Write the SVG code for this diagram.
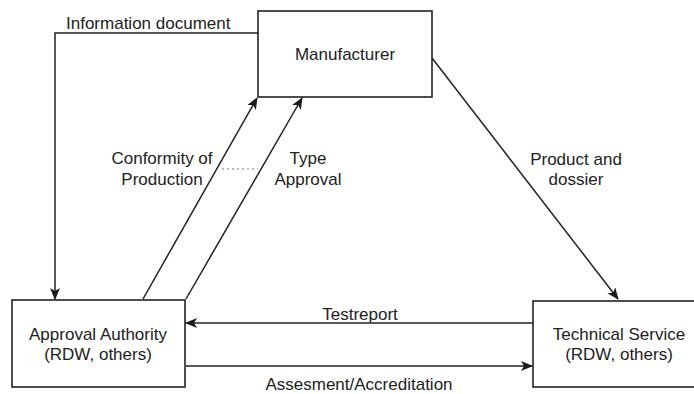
<svg xmlns="http://www.w3.org/2000/svg" width="694" height="394" viewBox="0 0 694 394">
  <defs>
    <marker id="arrow" viewBox="0 0 12 10" refX="11" refY="5" markerWidth="12" markerHeight="10" markerUnits="userSpaceOnUse" orient="auto">
      <path d="M0,0 L12,5 L0,10 L3,5 Z" fill="#1a1a1a"/>
    </marker>
  </defs>
  <style>
    .box { fill: #ffffff; stroke: #222222; stroke-width: 1.6; }
    .edge { fill: none; stroke: #222222; stroke-width: 1.5; }
    .dot { fill: none; stroke: #777777; stroke-width: 1.2; stroke-dasharray: 2 3; }
    text { font-family: "Liberation Sans", Arial, Helvetica, sans-serif; font-size: 17px; fill: #222222; }
    .c { text-anchor: middle; }
  </style>
  <rect width="694" height="394" fill="#ffffff"/>

  <g id="connectors">
    <!-- Information document: Manufacturer -> Approval Authority -->
    <polyline class="edge" points="258,33 55,33 55,299" marker-end="url(#arrow)"/>
    <!-- Conformity of Production -->
    <line class="edge" x1="143" y1="299" x2="257" y2="98" marker-end="url(#arrow)"/>
    <!-- Type Approval -->
    <line class="edge" x1="186" y1="299" x2="302" y2="98" marker-end="url(#arrow)"/>
    <line class="dot" x1="222" y1="169" x2="258" y2="169"/>
    <!-- Product and dossier -->
    <line class="edge" x1="432" y1="58" x2="618" y2="299" marker-end="url(#arrow)"/>
    <!-- Testreport -->
    <line class="edge" x1="533" y1="323" x2="186" y2="323" marker-end="url(#arrow)"/>
    <!-- Assesment/Accreditation -->
    <line class="edge" x1="186" y1="366" x2="532" y2="366" marker-end="url(#arrow)"/>

    <text x="66" y="29">Information document</text>
    <text class="c" x="162" y="164">Conformity of</text>
    <text class="c" x="162" y="185">Production</text>
    <text class="c" x="308" y="164">Type</text>
    <text class="c" x="308" y="185">Approval</text>
    <text class="c" x="576" y="165">Product and</text>
    <text class="c" x="576" y="185">dossier</text>
    <text class="c" x="360" y="320">Testreport</text>
    <text class="c" x="359" y="390">Assesment/Accreditation</text>
  </g>

  <g id="manufacturer">
    <rect class="box" x="258" y="11" width="174" height="86"/>
    <text class="c" x="345" y="60">Manufacturer</text>
  </g>

  <g id="approval-authority">
    <rect class="box" x="12" y="300" width="173" height="87"/>
    <text class="c" x="98" y="340">Approval Authority</text>
    <text class="c" x="98" y="360">(RDW, others)</text>
  </g>

  <g id="technical-service">
    <!-- box runs past the right edge of the canvas -->
    <rect class="box" x="533" y="301" width="200" height="86"/>
    <text class="c" x="619" y="340">Technical Service</text>
    <text class="c" x="619" y="360">(RDW, others)</text>
  </g>
</svg>
